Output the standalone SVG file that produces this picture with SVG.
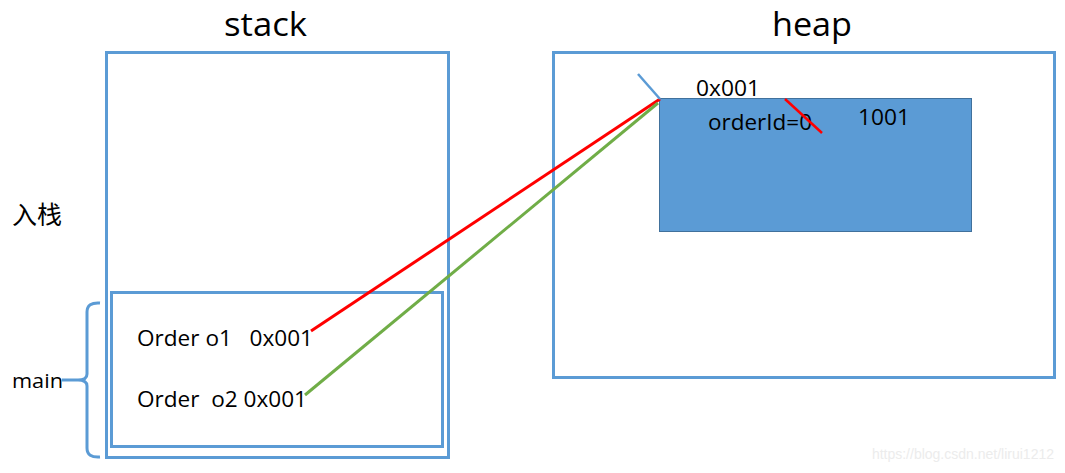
<svg xmlns="http://www.w3.org/2000/svg" width="1065" height="473" viewBox="0 0 1065 473">
<style>
.box{fill:none;stroke:#5B9BD5;stroke-width:3}
.t{font-family:"Open Sans","Liberation Sans",sans-serif;fill:#000}
.c{fill:none;stroke-width:3}
</style>
<rect width="1065" height="473" fill="#fff"/>
<g id="stack">
<rect class="box" x="106.5" y="52.5" width="342" height="405"/>
<text class="t" x="224" y="36" font-size="33" textLength="83" lengthAdjust="spacingAndGlyphs">stack</text>
</g>
<g id="main-frame">
<rect class="box" x="111.5" y="292.5" width="331" height="154"/>
<text class="t" x="137" y="346" font-size="21" xml:space="preserve" textLength="176" lengthAdjust="spacingAndGlyphs">Order o1   0x001</text>
<text class="t" x="137" y="407" font-size="21" xml:space="preserve" textLength="170" lengthAdjust="spacingAndGlyphs">Order  o2 0x001</text>
</g>
<g id="heap">
<rect class="box" x="553.5" y="52.5" width="501" height="325"/>
<text class="t" x="772" y="36" font-size="33" textLength="80" lengthAdjust="spacingAndGlyphs">heap</text>
</g>
<g id="order-object">
<rect x="659.5" y="98.5" width="312" height="133" fill="#5B9BD5" stroke="#41719C" stroke-width="1"/>
<text class="t" x="696" y="96" font-size="21" textLength="64" lengthAdjust="spacingAndGlyphs">0x001</text>
<text class="t" x="708" y="130" font-size="21" textLength="104" lengthAdjust="spacingAndGlyphs">orderId=0</text>
<text class="t" x="858" y="125" font-size="21" textLength="52" lengthAdjust="spacingAndGlyphs">1001</text>
</g>
<g id="labels">
<text class="t" x="12" y="224" font-size="25" style="font-family:'Noto Sans CJK SC',sans-serif">入栈</text>
<text class="t" x="12" y="388" font-size="20" textLength="51" lengthAdjust="spacingAndGlyphs">main</text>
<path d="M100,303 Q87,302 87,312 L87,374 Q87,380 78,380 L62,380 M78,380 Q87,380 87,386 L87,448 Q87,458 100,457" fill="none" stroke="#5B9BD5" stroke-width="3"/>
<text x="1054" y="459" font-size="14" text-anchor="end" fill="#ececec" font-family="Liberation Sans, sans-serif">https://blog.csdn.net/lirui1212</text>
</g>
<g id="connectors">
<line class="c" x1="311" y1="331" x2="660" y2="99" stroke="#FF0000"/>
<line class="c" x1="305" y1="395" x2="658" y2="103" stroke="#70AD47"/>
<line x1="638" y1="74" x2="660" y2="99" stroke="#5B9BD5" stroke-width="2.5"/>
<line x1="785" y1="99" x2="822" y2="133" stroke="#FF0000" stroke-width="2.5"/>
</g>
</svg>
